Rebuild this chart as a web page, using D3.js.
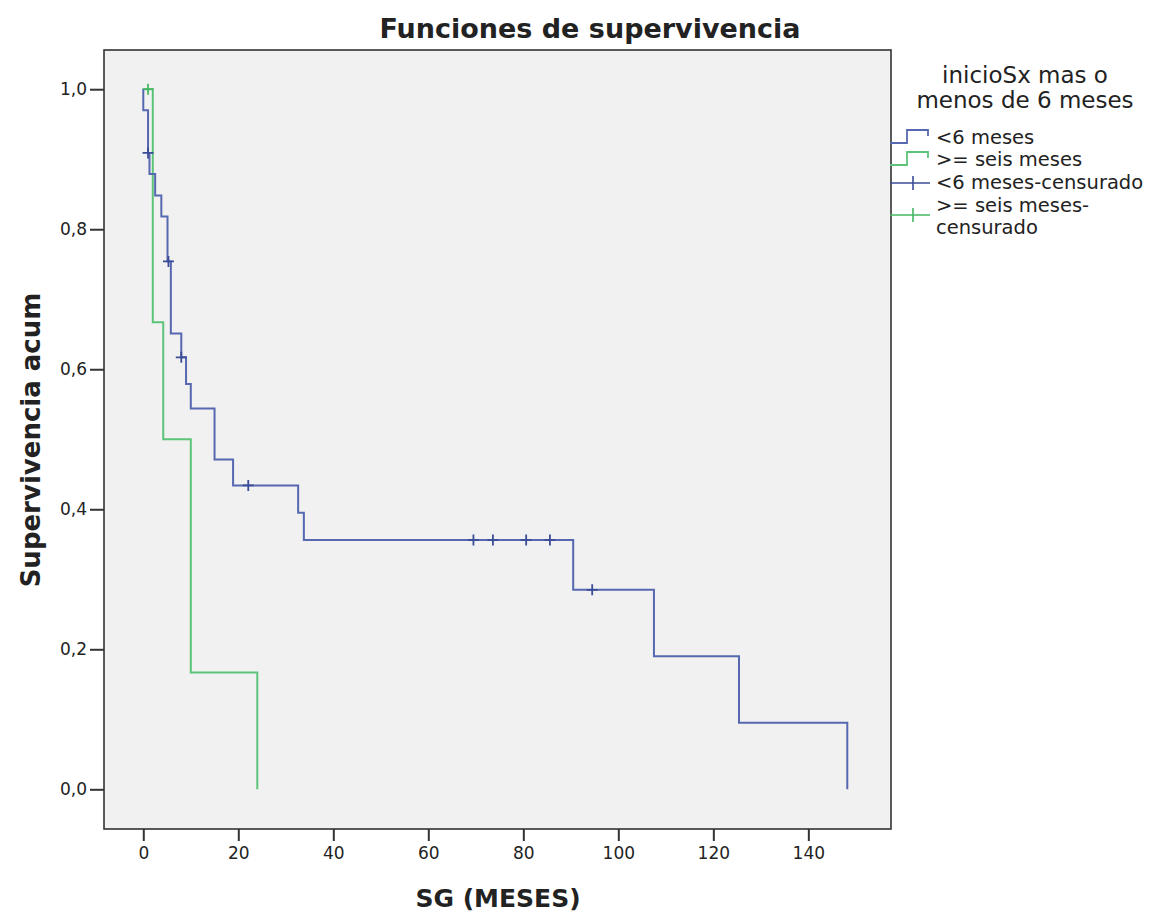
<!DOCTYPE html>
<meta charset="utf-8">
<style>
  body { margin: 0; background: #fff; }
  text { font-family: "DejaVu Sans", sans-serif; fill: #222; }
</style>
<body>
<script src="https://d3js.org/d3.v7.min.js"></script>
<script>
    // Kaplan-Meier steps: [time in months, survival after the step]
    var blueSteps = [[0, 0.970], [1, 0.909], [1.3, 0.879], [2.5, 0.848], [3.8, 0.818],
        [5.1, 0.754], [5.8, 0.651], [8, 0.617], [9, 0.579], [10, 0.544], [15, 0.471],
        [18.9, 0.434], [32.6, 0.395], [33.8, 0.356], [90.5, 0.285], [107.5, 0.190],
        [125.4, 0.095], [148.2, 0]];
    var blueCensored = [[1, 0.909], [5.3, 0.754], [8, 0.617], [22.1, 0.434], [69.5, 0.356],
        [73.6, 0.356], [80.6, 0.356], [85.6, 0.356], [94.5, 0.285]];

    var greenSteps = [[2, 0.667], [4.2, 0.5], [10, 0.167], [24, 0]];
    var greenCensored = [[1, 1.0]];

    var xTicks = [0, 20, 40, 60, 80, 100, 120, 140];
    var yTicks = [0, 0.2, 0.4, 0.6, 0.8, 1.0];

    var legendTitle = ["inicioSx mas o", "menos de 6 meses"];
    var legendItems = ["<6 meses", ">= seis meses", "<6 meses-censurado", ">= seis meses-", "censurado"];

    var blue = "#5668b0", blueDark = "#3b4c98",
        green = "#5cc479", greenDark = "#45b862";

    var width = 1159, height = 915;
    var plot = {left: 104, right: 891, top: 50, bottom: 829};

    var svg = d3.select("body").append("svg")
        .attr("width", width)
        .attr("height", height);

    var x = d3.scaleLinear().domain([-8.27, 157.4]).range([plot.left, plot.right]);
    var y = d3.scaleLinear().domain([-0.0567, 1.056]).range([plot.bottom, plot.top]);

    svg.append("rect")
        .attr("x", plot.left).attr("y", plot.top)
        .attr("width", plot.right - plot.left)
        .attr("height", plot.bottom - plot.top)
        .attr("fill", "#f1f1f1");

    var line = d3.line()
        .x(d => x(d[0]))
        .y(d => y(d[1]))
        .curve(d3.curveStepAfter);

    function drawCurve(steps, censored, col, colDark) {
        var pts = [[0, 1]].concat(steps);
        svg.append("path")
            .attr("d", line(pts))
            .attr("fill", "none")
            .attr("stroke", col)
            .attr("stroke-width", 2);
        svg.append("g").selectAll("path")
            .data(censored)
            .enter().append("path")
            .attr("d", d => "M" + (x(d[0]) - 5.5) + "," + y(d[1]) + "h11M" + x(d[0]) + "," + (y(d[1]) - 5.5) + "v11")
            .attr("stroke", colDark)
            .attr("stroke-width", 1.8);
    }

    drawCurve(greenSteps, greenCensored, green, greenDark);
    drawCurve(blueSteps, blueCensored, blue, blueDark);

    // frame
    svg.append("rect")
        .attr("x", plot.left).attr("y", plot.top)
        .attr("width", plot.right - plot.left)
        .attr("height", plot.bottom - plot.top)
        .attr("fill", "none")
        .attr("stroke", "#333")
        .attr("stroke-width", 1.6);

    var xAxis = svg.append("g")
        .attr("transform", "translate(0," + plot.bottom + ")")
        .call(d3.axisBottom(x).tickValues(xTicks).tickSize(12).tickPadding(6).tickFormat(d3.format("d")));
    var yAxis = svg.append("g")
        .attr("transform", "translate(" + plot.left + ",0)")
        .call(d3.axisLeft(y).tickValues(yTicks).tickSize(14).tickPadding(3)
            .tickFormat(d => d3.format(".1f")(d).replace(".", ",")));

    [xAxis, yAxis].forEach(function (a) {
        a.select(".domain").remove();
        a.selectAll(".tick line").attr("stroke", "#333").attr("stroke-width", 2);
        a.selectAll(".tick text")
            .attr("font-family", "DejaVu Sans, sans-serif")
            .attr("font-size", 17)
            .attr("fill", "#333");
    });

    svg.append("text")
        .attr("x", 590).attr("y", 38)
        .attr("text-anchor", "middle")
        .attr("font-size", 27).attr("font-weight", "bold")
        .text("Funciones de supervivencia");

    svg.append("text")
        .attr("x", 498).attr("y", 907)
        .attr("text-anchor", "middle")
        .attr("font-size", 25).attr("font-weight", "bold")
        .text("SG (MESES)");

    svg.append("text")
        .attr("transform", "translate(40,440) rotate(-90)")
        .attr("text-anchor", "middle")
        .attr("font-size", 26).attr("font-weight", "bold")
        .text("Supervivencia acum");

    // legend
    var lg = svg.append("g");
    lg.selectAll("text.lt")
        .data(legendTitle)
        .enter().append("text")
        .attr("class", "lt")
        .attr("x", 1025)
        .attr("y", (d, i) => 83 + i * 25)
        .attr("text-anchor", "middle")
        .attr("font-size", 23)
        .text(d => d);

    var itemY = [138, 160, 183, 206, 228];
    lg.selectAll("text.li")
        .data(legendItems)
        .enter().append("text")
        .attr("class", "li")
        .attr("x", 936)
        .attr("y", (d, i) => itemY[i] + 6)
        .attr("font-size", 19.5)
        .text(d => d);

    lg.append("path")
        .attr("d", "M890,143H907V130H928V136")
        .attr("fill", "none").attr("stroke", blue).attr("stroke-width", 1.8);
    lg.append("path")
        .attr("d", "M890,165H907V152H928V158")
        .attr("fill", "none").attr("stroke", green).attr("stroke-width", 1.8);
    lg.append("path")
        .attr("d", "M890,183H930M913,176V190")
        .attr("stroke", blueDark).attr("stroke-width", 1.6);
    lg.append("path")
        .attr("d", "M890,215H930M913,208V222")
        .attr("stroke", greenDark).attr("stroke-width", 1.6);
</script>
</body>
